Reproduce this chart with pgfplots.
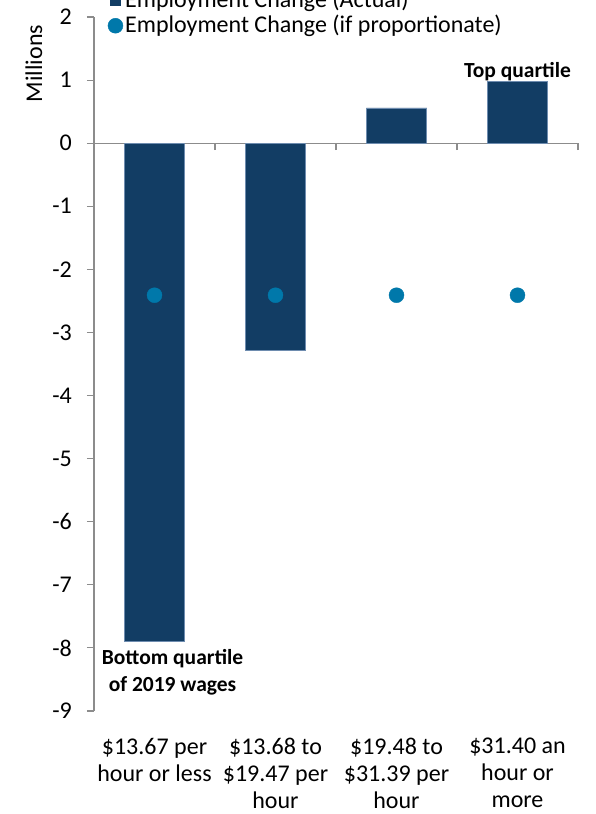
\documentclass[border=0pt]{standalone}
\usepackage{fontspec}
\setmainfont{Carlito}
\usepackage{pgfplots}
\usepackage{pgfplotstable}
\pgfplotsset{compat=1.18}

\definecolor{barnavy}{HTML}{123D64}
\definecolor{baredge}{HTML}{6E8CAF}
\definecolor{dotblue}{HTML}{0078AA}
\definecolor{axgray}{HTML}{8C8C8C}

% employment change, millions of jobs, by 2019 wage quartile
\pgfplotstableread{
x y
0 -7.90
1 -3.28
2 0.56
3 0.98
}\actualchange
\pgfplotstableread{
x y
0 -2.41
1 -2.41
2 -2.41
3 -2.41
}\proportionalchange

\begin{document}
\fontsize{24pt}{29pt}\selectfont
\begin{tikzpicture}
\begin{axis}[
  at={(94pt,103pt)}, anchor=south west,
  scale only axis, width=484pt, height=694pt,
  xmin=-0.5, xmax=3.5, ymin=-9, ymax=2,
  clip=false,
  axis y line=left, axis x line=middle,
  hide obscured x ticks=false, hide obscured y ticks=false,
  axis line style={axgray, line width=1.1pt, -},
  tick align=outside,
  tick style={axgray, line width=1.1pt},
  major tick length=7pt, minor tick length=7pt,
  ytick={-9,...,2},
  yticklabel style={font=\fontsize{24pt}{29pt}\selectfont, /pgf/number format/assume math mode=true, xshift=-7pt},
  xtick={0,1,2,3},
  major x tick style={draw=none},
  minor xtick={0.5,1.5,2.5,3.5},
  xticklabels={{\$13.67 per\\hour or less},{\$13.68 to\\\$19.47 per\\hour},{\$19.48 to\\\$31.39 per\\hour},{\$31.40 an\\hour or\\more}},
  xticklabel style={align=center, anchor=north, font=\fontsize{24pt}{27pt}\selectfont, yshift=-580pt},
  legend style={at={(rel axis cs:0.028,0.969)}, anchor=south west, draw=none, fill=none,
    font=\fontsize{24pt}{29pt}\selectfont, row sep=0pt, inner sep=0pt},
  legend cell align=left,
]
\addplot[ybar, bar width=0.5, bar shift=0pt, fill=barnavy, draw=baredge, line width=0.6pt,
  legend image code/.code={\fill[barnavy] (-3pt,-5pt) rectangle (7pt,5pt);}]
  table[x=x, y=y] {\actualchange};
\addlegendentry{Employment Change (Actual)}
\addplot[only marks, mark=*, mark size=7.5pt, color=dotblue,
  legend image code/.code={\fill[dotblue] (2pt,0pt) circle (7.5pt);}]
  table[x=x, y=y] {\proportionalchange};
\addlegendentry{Employment Change (if proportionate)}

\node[font=\bfseries\fontsize{21.5pt}{27pt}\selectfont, anchor=base, yshift=4pt] at (axis cs:3,0.98) {Top quartile};
\node[font=\bfseries\fontsize{21.5pt}{27pt}\selectfont, align=center, anchor=north, xshift=18pt] at (axis cs:0,-7.9) {Bottom quartile\\of 2019 wages};
\node[rotate=90, anchor=center] at ([xshift=-60pt]rel axis cs:0,0.933) {Millions};
\end{axis}
\pgfresetboundingbox
\path (0pt,0pt) rectangle (596pt,814pt);
\end{tikzpicture}
\end{document}
